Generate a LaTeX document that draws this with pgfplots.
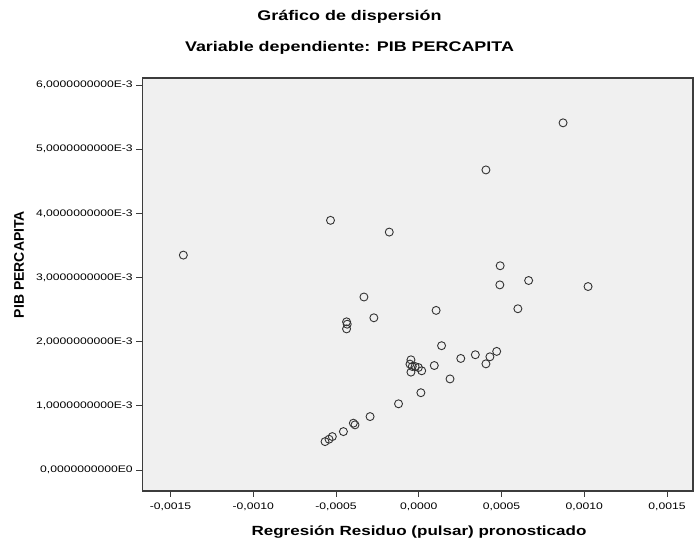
\documentclass[border=0pt]{standalone}
\usepackage{pgfplots}
\pgfplotsset{compat=1.18}
\usepackage{fontspec}
\setmainfont{Liberation Sans}
\definecolor{bg}{HTML}{F0F0F0}
\definecolor{fr}{HTML}{3C3C3C}
\newcommand{\hs}[1]{\scalebox{1.28}[1]{#1}}
\begin{document}
\begin{tikzpicture}
\path[use as bounding box] (0pt,0pt) rectangle (699pt,548pt);
\begin{axis}[at={(142.3pt,57pt)}, anchor=south west, width=550.7pt, height=413pt, scale only axis,
  xmin=-0.00167, xmax=0.001657, ymin=-0.000328, ymax=0.00611,
  axis background/.style={fill=bg},
  axis line style={fr, line width=1.3pt},
  xtick={-0.0015,-0.001,-0.0005,0,0.0005,0.001,0.0015},
  xticklabels={\hs{-0,0015},\hs{-0,0010},\hs{-0,0005},\hs{0,0000},\hs{0,0005},\hs{0,0010},\hs{0,0015}},
  ytick={0,0.001,0.002,0.003,0.004,0.005,0.006},
  yticklabels={\hs{0,0000000000E0},\hs{1,0000000000E-3},\hs{2,0000000000E-3},\hs{3,0000000000E-3},\hs{4,0000000000E-3},\hs{5,0000000000E-3},\hs{6,0000000000E-3}},
  tick align=outside, tick pos=left, major tick length=6pt,
  tick style={fr, line width=0.8pt},
  ticklabel style={font=\fontsize{9.5}{11}\selectfont},
  xticklabel style={yshift=-2pt},
  scaled ticks=false,
  clip=false,
]
\addplot[only marks, mark=o, mark size=4pt, draw=black!80, line width=0.9pt] table {
x y
0.000872 0.005411
0.000406 0.004677
-0.000533 0.003891
-0.000178 0.003708
-0.001422 0.003349
0.000492 0.003183
0.000490 0.002885
0.000664 0.002953
0.001023 0.002859
0.000599 0.002513
-0.000331 0.002696
-0.000271 0.002372
-0.000436 0.002309
-0.000432 0.002272
-0.000436 0.002199
0.000105 0.002487
0.000138 0.001937
0.000254 0.001738
0.000342 0.001796
0.000430 0.001764
0.000471 0.001848
0.000406 0.001654
0.000094 0.001628
-0.000047 0.001717
-0.000053 0.001650
-0.000039 0.001613
-0.000022 0.001613
-0.000002 0.001597
-0.000047 0.001525
0.000018 0.001546
0.000189 0.001419
0.000013 0.001204
-0.000122 0.001031
-0.000294 0.000832
-0.000395 0.000729
-0.000385 0.000703
-0.000455 0.000598
-0.000522 0.000520
-0.000542 0.000479
-0.000566 0.000442
};
\end{axis}
\node[font=\bfseries\fontsize{14}{16}\selectfont] at (349.5pt,531pt) {\hs{Gráfico de dispersión}};
\node[font=\bfseries\fontsize{14}{16}\selectfont] at (349.5pt,500pt) {\hs{Variable dependiente: PIB PERCAPITA}};
\node[font=\bfseries\fontsize{13.3}{16}\selectfont] at (419pt,16pt) {\hs{Regresión Residuo (pulsar) pronosticado}};
\node[font=\bfseries\fontsize{14}{16}\selectfont, rotate=90] at (19pt,283.5pt) {PIB PERCAPITA};
\end{tikzpicture}
\end{document}
